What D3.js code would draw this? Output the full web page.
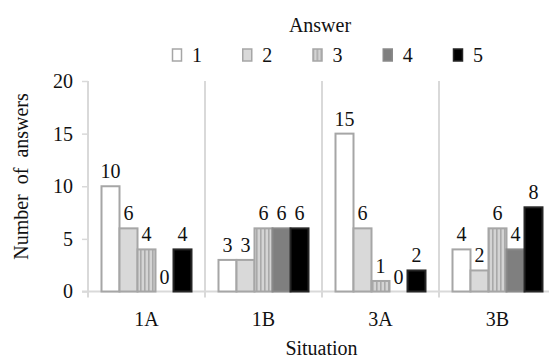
<!DOCTYPE html>
<html>
<head>
<meta charset="utf-8">
<script src="https://cdn.jsdelivr.net/npm/d3@7"></script>
<style>
  html, body { margin: 0; padding: 0; background: #fff; }
  svg { display: block; }
</style>
</head>
<body>
<svg id="chart" width="549" height="359"></svg>
<script>
// ---- data ----
const categories = ["1A", "1B", "3A", "3B"];
const answers = ["1", "2", "3", "4", "5"];
const answer1 = [10, 3, 15, 4];
const answer2 = [6, 3, 6, 2];
const answer3 = [4, 6, 1, 6];
const answer4 = [0, 6, 0, 4];
const answer5 = [4, 6, 2, 8];
const yTicks = [0, 5, 10, 15, 20];
const yTitle = "Number of answers";
const xTitle = "Situation";
const legendTitle = "Answer";

const seriesValues = [answer1, answer2, answer3, answer4, answer5];

// ---- layout ----
const svg = d3.select("#chart");
const FONT = "'Liberation Serif', Tinos, 'Times New Roman', 'DejaVu Serif', serif";
const plotLeft = 88, plotRight = 556, plotTop = 81, plotBottom = 291.5;
const fs = 20;

function styleText(sel) {
  return sel.style("font-family", FONT).style("font-size", fs + "px").style("fill", "#111");
}

const x = d3.scaleBand().domain(categories).range([plotLeft, plotRight]).padding(0);
const gw = x.bandwidth();
const xi = d3.scaleBand().domain(answers).range([13.5, gw - 13.5]).padding(0);
const y = d3.scaleLinear().domain([0, 20]).range([plotBottom, plotTop]);

// pattern for answer 3
const defs = svg.append("defs");
const pat = defs.append("pattern").attr("id", "stripe").attr("patternUnits", "userSpaceOnUse")
  .attr("width", 4).attr("height", 4);
pat.append("rect").attr("width", 4).attr("height", 4).attr("fill", "#d4d4d4");
pat.append("rect").attr("x", 0).attr("width", 1.6).attr("height", 4).attr("fill", "#a9a9a9");

const fills = ["#ffffff", "#d9d9d9", "url(#stripe)", "#7f7f7f", "#000000"];
const strokes = ["#a6a6a6", "#a6a6a6", "#a6a6a6", "#8a8a8a", "#262626"];

// gridlines at group boundaries (incl. y-axis)
const gridColor = "#d9d9d9";
const bounds = categories.map(c => x(c)).concat([plotRight]);
svg.append("g").selectAll("line").data(bounds).join("line")
  .attr("x1", d => d).attr("x2", d => d)
  .attr("y1", plotTop).attr("y2", plotBottom + 6)
  .attr("stroke", gridColor).attr("stroke-width", 2);

// y axis ticks + labels
const yAxis = d3.axisLeft(y).tickValues(yTicks).tickSize(6).tickPadding(9);
const yg = svg.append("g").attr("transform", `translate(${plotLeft},0)`).call(yAxis);
yg.select(".domain").remove();
yg.selectAll(".tick line").attr("stroke", gridColor).attr("stroke-width", 1.5);
styleText(yg.selectAll(".tick text"));

// baseline
svg.append("line").attr("x1", plotLeft - 6).attr("x2", plotRight).attr("y1", plotBottom).attr("y2", plotBottom)
  .attr("stroke", gridColor).attr("stroke-width", 2);

// bars
const barData = [];
categories.forEach((c, ci) => {
  answers.forEach((a, ai) => {
    barData.push({ c, a, ai, v: seriesValues[ai][ci] });
  });
});

svg.append("g").selectAll("rect").data(barData).join("rect")
  .attr("x", d => x(d.c) + xi(d.a))
  .attr("y", d => y(d.v))
  .attr("width", xi.bandwidth())
  .attr("height", d => plotBottom - y(d.v))
  .attr("fill", d => fills[d.ai])
  .attr("stroke", d => strokes[d.ai])
  .attr("stroke-width", d => d.v === 0 ? 0 : 2);

// data labels
styleText(svg.append("g").selectAll("text").data(barData).join("text")
  .attr("x", d => x(d.c) + xi(d.a) + xi.bandwidth() / 2)
  .attr("y", d => y(d.v) - 8)
  .attr("text-anchor", "middle")
  .text(d => d.v));

// x category labels
const xAxis = d3.axisBottom(x).tickSize(0).tickPadding(0);
const xg = svg.append("g").attr("transform", `translate(0,${plotBottom})`).call(xAxis);
xg.select(".domain").remove();
styleText(xg.selectAll(".tick text")).attr("dy", null).attr("y", 34.5);

// axis titles
styleText(svg.append("text").attr("x", 321.5).attr("y", 355).attr("text-anchor", "middle").text(xTitle));
styleText(svg.append("text").attr("transform", "translate(28,176.5) rotate(-90)")
  .attr("text-anchor", "middle").style("word-spacing", "5px").text(yTitle));

// legend
styleText(svg.append("text").attr("x", 320).attr("y", 32).attr("text-anchor", "middle").text(legendTitle));
const legendX = d3.scalePoint().domain(answers).range([172, 453]);
const lg = svg.append("g").selectAll("g").data(answers).join("g")
  .attr("transform", d => `translate(${legendX(d)},0)`);
lg.append("rect").attr("x", 0.5).attr("y", 49).attr("width", 9).attr("height", 12)
  .attr("fill", (d, i) => fills[i]).attr("stroke", (d, i) => strokes[i]).attr("stroke-width", 1.5);
styleText(lg.append("text").attr("x", 20).attr("y", 61.5).text(d => d));
</script>
</body>
</html>
